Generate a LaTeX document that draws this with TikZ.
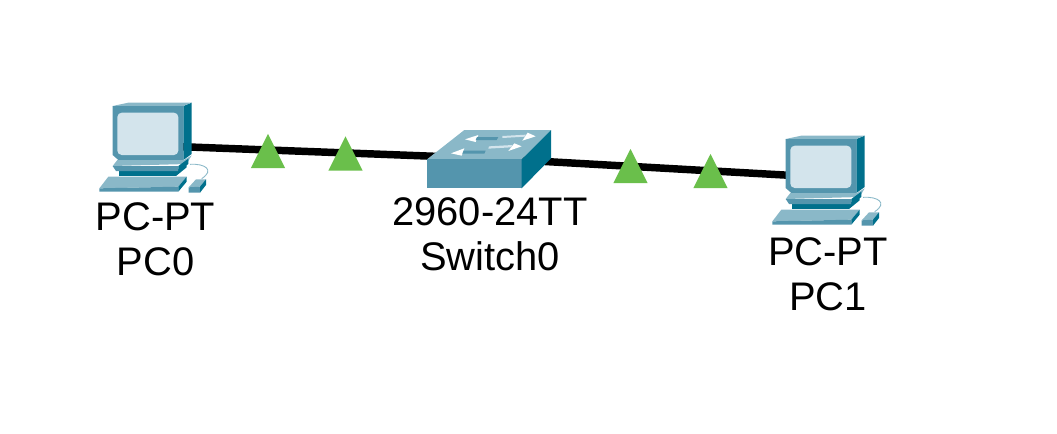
\documentclass[tikz,border=0pt]{standalone}
\usepackage{fontspec}
\setmainfont{Liberation Sans}
\usetikzlibrary{shapes.geometric}
\definecolor{tealmid}{HTML}{5495AD}
\definecolor{tealdark}{HTML}{00708C}
\definecolor{teallight}{HTML}{8AB8C8}
\definecolor{tealpale}{HTML}{D3E4EC}
\definecolor{linkgreen}{HTML}{6ABF4B}
\tikzset{
    link/.style = {line width=4.25pt, black},
    linkup/.style = {isosceles triangle, isosceles triangle apex angle=53.3, shape border rotate=90, anchor=lower side, fill=linkgreen, inner sep=0pt, minimum height=19.45pt, minimum width=19.5pt},
    devlabel/.style = {align=center, font=\fontsize{22.7}{25.5}\selectfont},
    pics/pcicon/.style = {code = {
        \begin{scope}[scale=1/3]
            % monitor
            \fill [tealdark] (280,48) -- (305,38) -- (305,192) -- (280,210) -- cycle;
            \fill [teallight] (68,48) -- (115,38) -- (305,38) -- (280,48) -- cycle;
            \fill [tealmid] (68,48) -- (280,48) -- (280,210) -- (85,210) -- (68,195) -- cycle;
            \fill [tealpale, rounded corners=2.5pt] (82,68) rectangle (265,195);
            % stand
            \fill [tealdark] (88,242) rectangle (258,258);
            \fill [tealdark] (258,258) -- (258,242) -- (290,222) -- (290,232) -- cycle;
            \fill [teallight] (82,210) -- (282,210) -- (305,196) -- (290,222) -- (68,228) -- cycle;
            \fill [tealmid] (68,228) -- (265,228) -- (265,243) -- (78,243) -- cycle;
            \fill [tealdark] (265,228) -- (295,206) -- (295,222) -- (265,243) -- cycle;
            % keyboard
            \fill [teallight] (55,260) -- (290,260) -- (265,290) -- (28,295) -- cycle;
            \fill [tealmid] (28,295) -- (265,290) -- (265,305) -- (28,305) -- cycle;
            \fill [tealdark] (265,290) -- (290,260) -- (290,275) -- (265,305) -- cycle;
            % mouse
            \draw [teallight, line width=0.5pt] (300,223) .. controls (345,220) and (375,240) .. (335,266);
            \fill [teallight] (318,268) -- (348,268) -- (330,290) -- (296,292) -- cycle;
            \fill [tealmid] (296,292) -- (330,290) -- (330,308) -- (296,308) -- cycle;
            \fill [tealdark] (330,290) -- (348,268) -- (348,285) -- (330,308) -- cycle;
        \end{scope}
    }},
    pics/switchicon/.style = {code = {
        \begin{scope}[scale=1/3]
            \fill [teallight] (36,118) -- (148,30) -- (408,30) -- (320,118) -- cycle;
            \fill [tealmid] (36,118) rectangle (320,205);
            \fill [tealdark] (320,118) -- (408,30) -- (408,115) -- (320,205) -- cycle;
            % arrows on the top
            \fill [white] (150,58) -- (190,45) -- (182,66) -- cycle;
            \fill [tealmid] (186,51) -- (250,51) -- (245,60) -- (182,60) -- cycle;
            \fill [tealpale] (262,48) -- (332,44) -- (330,50) -- (262,54) -- cycle;
            \fill [white] (322,62) -- (338,38) -- (362,49) -- cycle;
            \fill [white] (108,100) -- (148,85) -- (140,107) -- cycle;
            \fill [tealmid] (146,92) -- (212,92) -- (208,101) -- (142,101) -- cycle;
            \fill [tealpale] (222,79) -- (292,75) -- (288,82) -- (220,86) -- cycle;
            \fill [white] (280,93) -- (298,70) -- (320,79) -- cycle;
        \end{scope}
    }}
}
\begin{document}
\begin{tikzpicture}[x=0.02cm, y=-0.02cm]
    \useasboundingbox (0,0) rectangle (1057,433);
    \coordinate (pc0) at (150,145.5);
    \coordinate (sw0) at (490,158.4);
    \coordinate (pc1) at (825,177.3);
    \draw [link] (pc0) -- (sw0);
    \draw [link] (sw0) -- (pc1);
    \pic at (90,90) {pcicon};
    \pic at (415,120) {switchicon};
    \pic at (763,123) {pcicon};
    \node [linkup] (up0) at (268,168.5) {};
    \node [linkup] (up1) at (345.5,171) {};
    \node [linkup] (up2) at (630.5,183.5) {};
    \node [linkup] (up3) at (710.5,188.5) {};
    \node [devlabel] (labelpc0) at (155.5,239.5) {PC-PT\\PC0};
    \node [devlabel] (labelsw0) at (490,234.5) {2960-24TT\\Switch0};
    \node [devlabel] (labelpc1) at (828,274) {PC-PT\\PC1};
\end{tikzpicture}
\end{document}
